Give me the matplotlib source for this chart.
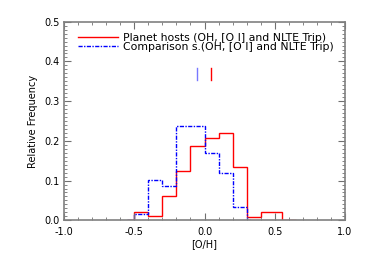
import matplotlib
matplotlib.use("Agg")
import matplotlib.pyplot as plt
from matplotlib.ticker import MultipleLocator, FormatStrFormatter

# bin edges and relative frequencies
hosts_edges = [-0.55, -0.5, -0.4, -0.3, -0.2, -0.1, 0.0, 0.1, 0.2, 0.3, 0.4, 0.55, 0.65]
hosts_freq = [0.0, 0.020, 0.011, 0.061, 0.124, 0.188, 0.208, 0.219, 0.134, 0.009, 0.020, 0.0]

comp_edges = [-0.55, -0.5, -0.4, -0.3, -0.2, -0.1, 0.0, 0.1, 0.2, 0.3, 0.34]
comp_freq = [0.0, 0.017, 0.101, 0.086, 0.237, 0.237, 0.169, 0.119, 0.034, 0.0]

# mean values shown as short vertical marks
hosts_mean = 0.044
comp_mean = -0.056
mark_y = (0.353, 0.383)

labels = ["Planet hosts (OH, [O I] and NLTE Trip)",
          "Comparison s.(OH, [O I] and NLTE Trip)"]

fig = plt.figure(figsize=(3.65, 2.61), dpi=100)
ax = fig.add_axes([64 / 365, 1 - 220.3 / 261, (345 - 64) / 365, (220.3 - 21.7) / 261])

ax.stairs(hosts_freq, hosts_edges, color="red", lw=1.0, label=labels[0])
ax.stairs(comp_freq, comp_edges, color="blue", lw=1.0, ls=(0, (3, 1, 1, 1)), label=labels[1])

ax.plot([comp_mean, comp_mean], mark_y, color="#7878ff", lw=1.0)
ax.plot([hosts_mean, hosts_mean], mark_y, color="red", lw=1.0)

ax.set_xlim(-1.0, 1.0)
ax.set_ylim(0.0, 0.5)
ax.xaxis.set_major_locator(MultipleLocator(0.5))
ax.xaxis.set_minor_locator(MultipleLocator(0.1))
ax.yaxis.set_major_locator(MultipleLocator(0.1))
ax.yaxis.set_minor_locator(MultipleLocator(0.01))
ax.tick_params(which="both", direction="in", top=True, right=True, color="#707070",
               labelsize=7)
ax.tick_params(axis="x", pad=5)
ax.tick_params(axis="y", pad=3)
ax.tick_params(which="major", length=5, width=0.8)
ax.tick_params(which="minor", length=2.5, width=0.6)
ax.xaxis.set_major_formatter(FormatStrFormatter("%.1f"))
ax.yaxis.set_major_formatter(FormatStrFormatter("%.1f"))
for s in ax.spines.values():
    s.set_color("#808080")
    s.set_linewidth(1.2)

ax.set_xlabel("[O/H]", fontsize=7, labelpad=1)
ax.set_ylabel("Relative Frequency", fontsize=7, labelpad=5)

ax.legend(loc="upper left", fontsize=7.8, frameon=False, handlelength=3.7,
          handletextpad=0.45, labelspacing=-0.05, borderpad=0.0, borderaxespad=0.0,
          bbox_to_anchor=(14 / 281, 1 - 11 / 198.6))

fig.savefig("out.png", dpi=100)
